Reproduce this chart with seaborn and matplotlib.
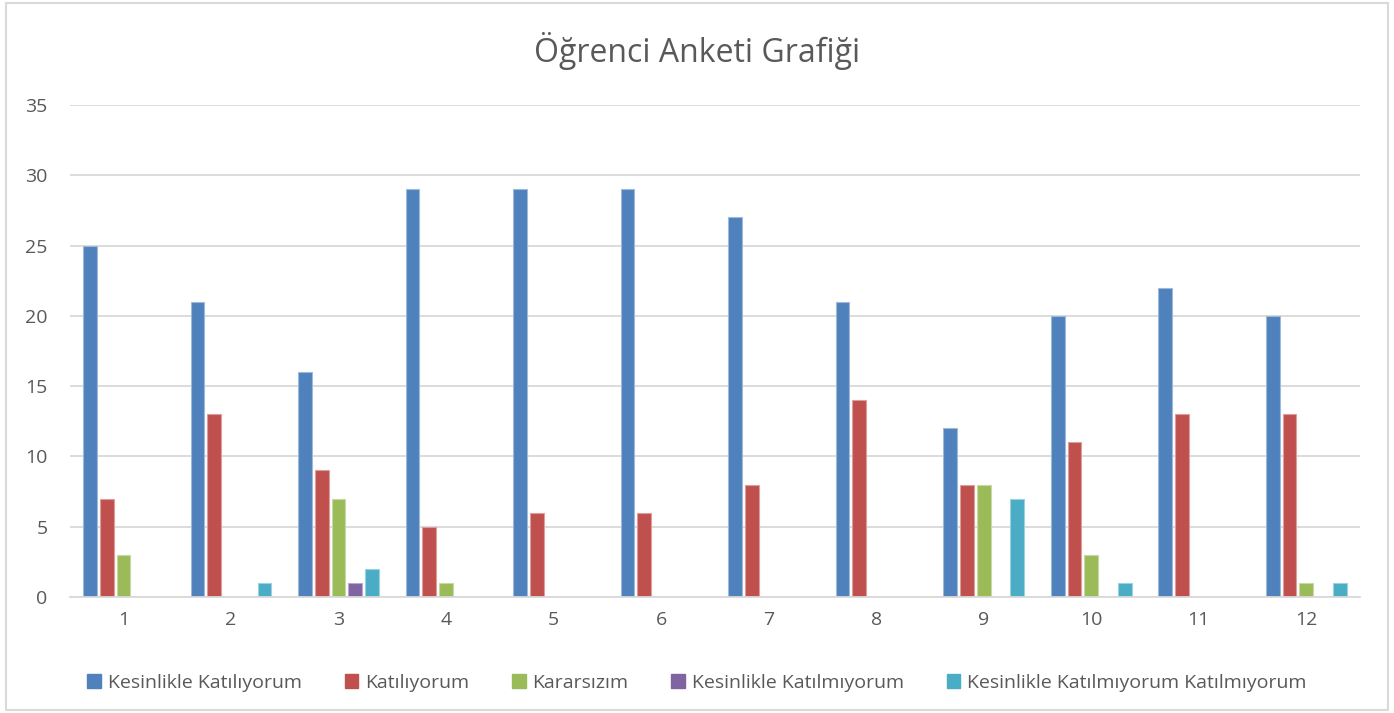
import matplotlib
matplotlib.use('Agg')
import pandas as pd
import matplotlib.pyplot as plt
import seaborn as sns
from matplotlib.patches import Rectangle
from matplotlib.colors import to_rgb

questions = [str(i) for i in range(1, 13)]
series_names = [
	'Kesinlikle Katılıyorum',
	'Katılıyorum',
	'Kararsızım',
	'Kesinlikle Katılmıyorum',
	'Kesinlikle Katılmıyorum Katılmıyorum',
]
kesinlikle_katiliyorum = [25, 21, 16, 29, 29, 29, 27, 21, 12, 20, 22, 20]
katiliyorum = [7, 13, 9, 5, 6, 6, 8, 14, 8, 11, 13, 13]
kararsizim = [3, 0, 7, 1, 0, 0, 0, 0, 8, 3, 0, 1]
kesinlikle_katilmiyorum = [0, 0, 1, 0, 0, 0, 0, 0, 0, 0, 0, 0]
kesinlikle_katilmiyorum_2 = [0, 1, 2, 0, 0, 0, 0, 0, 7, 1, 0, 1]

colors = ['#4F81BD', '#C0504D', '#9BBB59', '#8064A2', '#4BACC6']

series_values = [
	kesinlikle_katiliyorum,
	katiliyorum,
	kararsizim,
	kesinlikle_katilmiyorum,
	kesinlikle_katilmiyorum_2,
]

rows = []
for name, vals in zip(series_names, series_values):
	for q, v in zip(questions, vals):
		rows.append({'Soru': q, 'Seri': name, 'Değer': v})
df = pd.DataFrame(rows)

sns.set_style('white')
plt.rcParams['font.family'] = ['Open Sans', 'DejaVu Sans']
text_color = '#595959'

fig = plt.figure(figsize=(13.94, 7.13), dpi=100)
ax = fig.add_axes([0.050, 0.1627, 0.9256, 0.69])

sns.barplot(
	data=df, x='Soru', y='Değer', hue='Seri',
	order=questions, hue_order=series_names, palette=colors,
	saturation=1, width=0.78, gap=0.18, ax=ax, legend=False,
	linewidth=0.8,
)

# lighter tint on bar outlines, like the office style
for bar in ax.patches:
	r, g, b = to_rgb(bar.get_facecolor())
	bar.set_edgecolor((r + (1 - r) * 0.45, g + (1 - g) * 0.45, b + (1 - b) * 0.45))
	if bar.get_height() == 0:
		bar.set_linewidth(0)

ax.set_xlim(-0.5, 11.5)
ax.set_ylim(0, 35)
ax.set_yticks(range(0, 36, 5))
ax.yaxis.grid(True, color='#D9D9D9', linewidth=1.3)
ax.set_axisbelow(True)
for side in ['top', 'right', 'left']:
	ax.spines[side].set_visible(False)
ax.spines['bottom'].set_color('#D9D9D9')
ax.spines['bottom'].set_linewidth(1.3)
ax.tick_params(axis='both', length=0, labelsize=14, labelcolor=text_color)
ax.tick_params(axis='y', pad=16)
ax.tick_params(axis='x', pad=10)
ax.set_xlabel('')
ax.set_ylabel('')

fig.text(0.5, 0.928, 'Öğrenci Anketi Grafiği', ha='center', va='center',
	fontsize=23, color=text_color)

handles = [Rectangle((0, 0), 1, 1, color=c) for c in colors]
fig.legend(handles, series_names, loc='center', bbox_to_anchor=(0.5, 0.042),
	ncol=5, frameon=False, fontsize=14, labelcolor=text_color,
	handlelength=0.7, handleheight=0.7, handletextpad=0.35, columnspacing=2.2)

fig.patches.append(Rectangle((0.004, 0.004), 0.992, 0.992, transform=fig.transFigure,
	fill=False, edgecolor='#D9D9D9', linewidth=1.5))

fig.savefig('out.png', dpi=100)
